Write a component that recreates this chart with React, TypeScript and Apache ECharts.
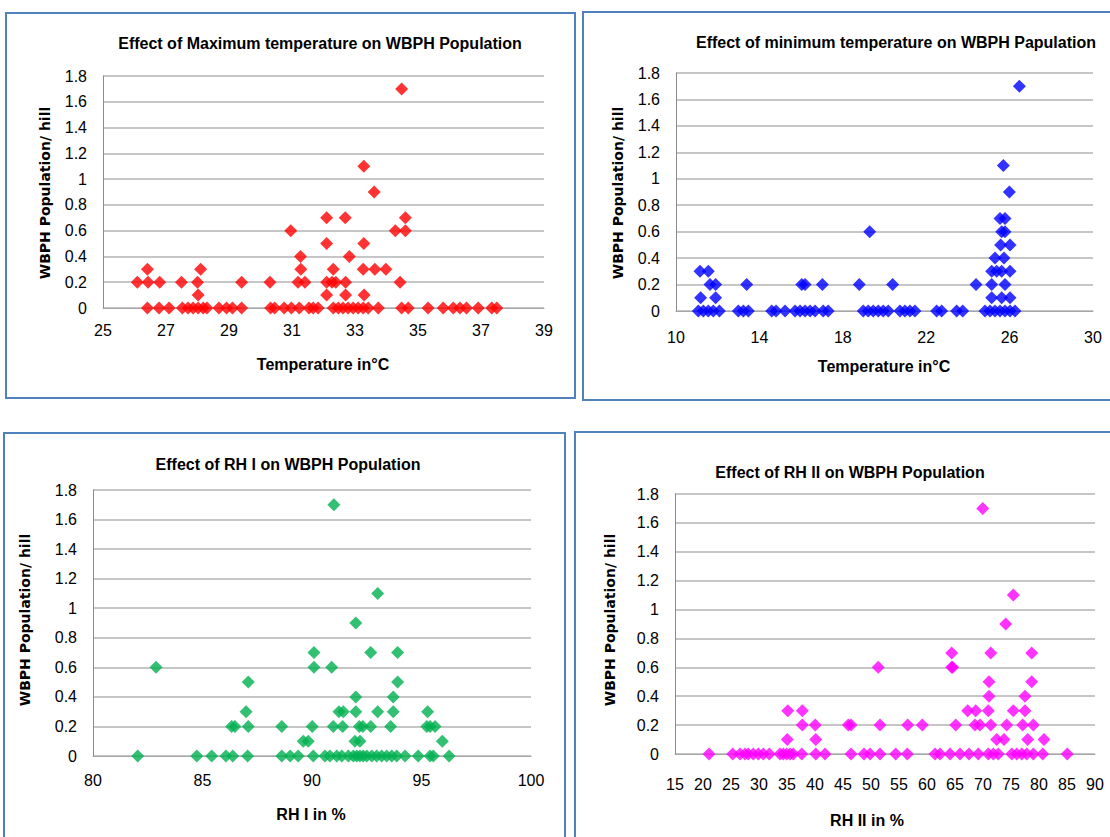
import React, { useEffect, useRef } from "react";
import * as echarts from "echarts";

// [temperature, population]
const maxTempPoints: [number, number][] = [
  [34.48, 1.7], [33.28, 1.1], [33.61, 0.9],
  [32.1, 0.7], [32.69, 0.7], [34.6, 0.7],
  [30.96, 0.6], [34.28, 0.6], [34.6, 0.6],
  [32.1, 0.5], [33.28, 0.5],
  [31.27, 0.4], [32.82, 0.4],
  [26.41, 0.3], [28.1, 0.3], [31.28, 0.3], [32.31, 0.3], [33.26, 0.3], [33.63, 0.3], [33.98, 0.3],
  [26.09, 0.2], [26.43, 0.2], [26.8, 0.2], [27.49, 0.2], [28.0, 0.2], [29.4, 0.2], [30.3, 0.2],
  [31.19, 0.2], [31.41, 0.2], [32.1, 0.2], [32.27, 0.2], [32.39, 0.2], [32.7, 0.2], [34.43, 0.2],
  [28.02, 0.1], [32.1, 0.1], [32.7, 0.1], [33.29, 0.1],
  [26.41, 0], [26.78, 0], [27.1, 0], [27.52, 0], [27.7, 0], [27.86, 0], [28.02, 0], [28.18, 0],
  [28.3, 0], [28.68, 0], [28.92, 0], [29.11, 0], [29.4, 0], [30.32, 0], [30.45, 0], [30.75, 0],
  [30.98, 0], [31.23, 0], [31.54, 0], [31.67, 0], [31.83, 0], [32.31, 0], [32.47, 0], [32.62, 0],
  [32.78, 0], [32.94, 0], [33.1, 0], [33.26, 0], [33.42, 0], [33.74, 0], [34.48, 0], [34.69, 0],
  [35.32, 0], [35.8, 0], [36.12, 0], [36.33, 0], [36.54, 0], [36.91, 0], [37.34, 0], [37.5, 0],
];

const minTempPoints: [number, number][] = [
  [26.47, 1.7], [25.7, 1.1], [25.99, 0.9],
  [25.54, 0.7], [25.78, 0.7],
  [19.29, 0.6], [25.62, 0.6], [25.78, 0.6],
  [25.57, 0.5], [26.02, 0.5],
  [25.3, 0.4], [25.73, 0.4],
  [11.15, 0.3], [11.55, 0.3], [25.14, 0.3], [25.38, 0.3], [25.62, 0.3], [26.02, 0.3],
  [11.63, 0.2], [11.9, 0.2], [13.39, 0.2], [16.03, 0.2], [16.19, 0.2], [17.02, 0.2], [18.79, 0.2],
  [20.39, 0.2], [24.39, 0.2], [25.14, 0.2], [25.78, 0.2],
  [11.18, 0.1], [11.9, 0.1], [25.14, 0.1], [25.62, 0.1], [26.02, 0.1],
  [11.07, 0], [11.31, 0], [11.55, 0], [11.79, 0], [12.08, 0], [12.99, 0], [13.23, 0], [13.47, 0],
  [14.59, 0], [14.8, 0], [15.23, 0], [15.71, 0], [15.95, 0], [16.19, 0], [16.43, 0], [16.67, 0],
  [17.06, 0], [17.3, 0], [18.98, 0], [19.22, 0], [19.46, 0], [19.7, 0], [19.94, 0], [20.18, 0],
  [20.74, 0], [20.98, 0], [21.22, 0], [21.46, 0], [22.5, 0], [22.74, 0], [23.46, 0], [23.75, 0],
  [24.82, 0], [25.06, 0], [25.3, 0], [25.54, 0], [25.78, 0], [26.02, 0], [26.26, 0],
];

// [RH I %, population]
const rh1Points: [number, number][] = [
  [91.0, 1.7], [93.0, 1.1], [92.0, 0.9],
  [90.09, 0.7], [92.68, 0.7], [93.91, 0.7],
  [82.88, 0.6], [90.09, 0.6], [90.9, 0.6],
  [87.09, 0.5], [93.91, 0.5],
  [92.0, 0.4], [93.71, 0.4],
  [86.99, 0.3], [91.23, 0.3], [91.43, 0.3], [92.0, 0.3], [93.0, 0.3], [93.71, 0.3], [95.28, 0.3],
  [86.33, 0.2], [86.48, 0.2], [87.09, 0.2], [88.62, 0.2], [90.01, 0.2], [90.97, 0.2], [91.4, 0.2],
  [92.16, 0.2], [92.32, 0.2], [92.68, 0.2], [93.59, 0.2], [95.24, 0.2], [95.39, 0.2], [95.62, 0.2],
  [89.6, 0.1], [89.83, 0.1], [91.96, 0.1], [92.19, 0.1], [95.95, 0.1],
  [82.04, 0], [84.74, 0], [85.42, 0], [86.07, 0], [86.38, 0], [87.06, 0], [88.62, 0], [89.0, 0],
  [89.37, 0], [90.06, 0], [90.59, 0], [90.82, 0], [91.13, 0], [91.36, 0], [91.66, 0], [91.89, 0],
  [92.04, 0], [92.19, 0], [92.34, 0], [92.5, 0], [92.73, 0], [92.95, 0], [93.18, 0], [93.41, 0],
  [93.64, 0], [93.87, 0], [94.25, 0], [94.85, 0], [95.39, 0], [95.54, 0], [96.26, 0],
];

// [RH II %, population]
const rh2Points: [number, number][] = [
  [69.95, 1.7], [75.41, 1.1], [74.05, 0.9],
  [64.41, 0.7], [71.38, 0.7], [78.7, 0.7],
  [51.3, 0.6], [64.41, 0.6], [64.59, 0.6],
  [71.07, 0.5], [78.7, 0.5],
  [71.07, 0.4], [77.5, 0.4],
  [35.13, 0.3], [37.73, 0.3], [67.27, 0.3], [68.7, 0.3], [70.95, 0.3], [75.41, 0.3], [77.5, 0.3],
  [37.73, 0.2], [40.05, 0.2], [45.95, 0.2], [46.43, 0.2], [51.61, 0.2], [56.55, 0.2], [59.16, 0.2],
  [65.13, 0.2], [68.57, 0.2], [69.46, 0.2], [71.38, 0.2], [74.23, 0.2], [77.09, 0.2], [78.98, 0.2],
  [35.05, 0.1], [40.13, 0.1], [72.44, 0.1], [73.75, 0.1], [77.98, 0.1], [80.89, 0.1],
  [21.07, 0], [25.3, 0], [26.61, 0], [27.5, 0], [28.09, 0], [28.98, 0], [29.88, 0], [30.77, 0],
  [31.84, 0], [33.75, 0], [34.34, 0], [34.95, 0], [35.54, 0], [36.13, 0], [37.63, 0], [40.13, 0],
  [41.79, 0], [46.43, 0], [48.75, 0], [49.82, 0], [51.61, 0], [54.41, 0], [56.48, 0], [61.43, 0],
  [62.32, 0], [64.11, 0], [65.89, 0], [67.5, 0], [69.16, 0], [70.95, 0], [71.84, 0], [72.73, 0],
  [75.13, 0], [76.02, 0], [76.91, 0], [77.8, 0], [78.98, 0], [80.66, 0], [85.05, 0],
];

const titles = [
  "Effect of Maximum temperature on WBPH Population",
  "Effect of minimum temperature on WBPH Papulation",
  "Effect of RH I on WBPH Population",
  "Effect of RH II on WBPH Population",
];
const xNames = ["Temperature in°C", "Temperature in°C", "RH I in %", "RH II in %"];
const yName = "WBPH Population/ hill";
const xRanges = [
  { min: 25, max: 39, interval: 2 },
  { min: 10, max: 30, interval: 4 },
  { min: 80, max: 100, interval: 5 },
  { min: 15, max: 90, interval: 5 },
];
const colors = ["#FF0000", "#0000FF", "#00B050", "#FF00FF"];

const grids = [
  { left: 103, top: 76, width: 441, height: 232 },
  { left: 676, top: 73, width: 417, height: 238 },
  { left: 93, top: 490, width: 438, height: 266 },
  { left: 675, top: 494, width: 420, height: 260 },
];
const xLabelMargins = [14, 18, 16, 22];
const titlePos = [[320, 43], [896, 42], [288, 464], [850, 472]];
const xNamePos = [[323, 364], [884, 366], [311, 814], [867, 820]];
const yNamePos = [[45, 193], [618, 193], [25, 620], [610, 620]];
const borders = [
  { x: 6, y: 13, width: 569, height: 385 },
  { x: 583, y: 12, width: 540, height: 388 },
  { x: 4, y: 433, width: 561, height: 420 },
  { x: 575, y: 432, width: 550, height: 420 },
];

export default function App() {
  const ref = useRef<HTMLDivElement>(null);
  useEffect(() => {
    if (!ref.current) return;
    const chart = echarts.init(ref.current, undefined, { renderer: "svg" });
    const allPoints = [maxTempPoints, minTempPoints, rh1Points, rh2Points];
    const graphic: any[] = [];
    borders.forEach((b) => {
      graphic.push({
        type: "rect",
        shape: { x: b.x, y: b.y, width: b.width, height: b.height },
        style: { fill: "transparent", stroke: "#4F81BD", lineWidth: 2 },
        z: 0,
      });
    });
    titles.forEach((t, i) => {
      graphic.push({
        type: "text",
        x: titlePos[i][0],
        y: titlePos[i][1],
        style: {
          text: t,
          font: "bold 16px 'Liberation Sans', sans-serif",
          fill: "#000",
          align: "center",
          verticalAlign: "middle",
        },
      });
      graphic.push({
        type: "text",
        x: xNamePos[i][0],
        y: xNamePos[i][1],
        style: {
          text: xNames[i],
          font: "bold 16px 'Liberation Sans', sans-serif",
          fill: "#000",
          align: "center",
          verticalAlign: "middle",
        },
      });
      graphic.push({
        type: "text",
        x: yNamePos[i][0],
        y: yNamePos[i][1],
        rotation: Math.PI / 2,
        style: {
          text: yName,
          font: "bold 14px 'DejaVu Sans', sans-serif",
          fill: "#000",
          align: "center",
          verticalAlign: "middle",
        },
      });
    });
    chart.setOption({
      animation: false,
      backgroundColor: "#fff",
      grid: grids.map((g) => ({ ...g, containLabel: false })),
      xAxis: xRanges.map((r, i) => ({
        type: "value",
        gridIndex: i,
        min: r.min,
        max: r.max,
        interval: r.interval,
        axisLine: { show: true, lineStyle: { color: "#A6A6A6", width: 1 } },
        axisTick: { show: false },
        splitLine: { show: false },
        axisLabel: {
          color: "#000",
          fontSize: 16,
          fontFamily: "'Liberation Sans', sans-serif",
          margin: xLabelMargins[i],
        },
      })),
      yAxis: grids.map((_, i) => ({
        type: "value",
        gridIndex: i,
        min: 0,
        max: 1.8,
        interval: 0.2,
        axisLine: { show: true, onZero: false, lineStyle: { color: "#8C8C8C", width: 1 } },
        axisTick: { show: false },
        splitLine: { show: true, lineStyle: { color: "#B3B3B3", width: 1.5 } },
        axisLabel: {
          color: "#000",
          fontSize: 16,
          fontFamily: "'Liberation Sans', sans-serif",
          margin: 16,
          formatter: (v: number) => String(Math.round(v * 10) / 10),
        },
      })),
      series: allPoints.map((pts, i) => ({
        type: "scatter",
        xAxisIndex: i,
        yAxisIndex: i,
        symbol: "diamond",
        symbolSize: 13,
        itemStyle: { color: colors[i] },
        data: pts,
      })),
      graphic,
    });
    return () => chart.dispose();
  }, []);
  return (
    <div
      ref={ref}
      style={{ position: "absolute", left: 0, top: 0, width: 1110, height: 837 }}
    />
  );
}
